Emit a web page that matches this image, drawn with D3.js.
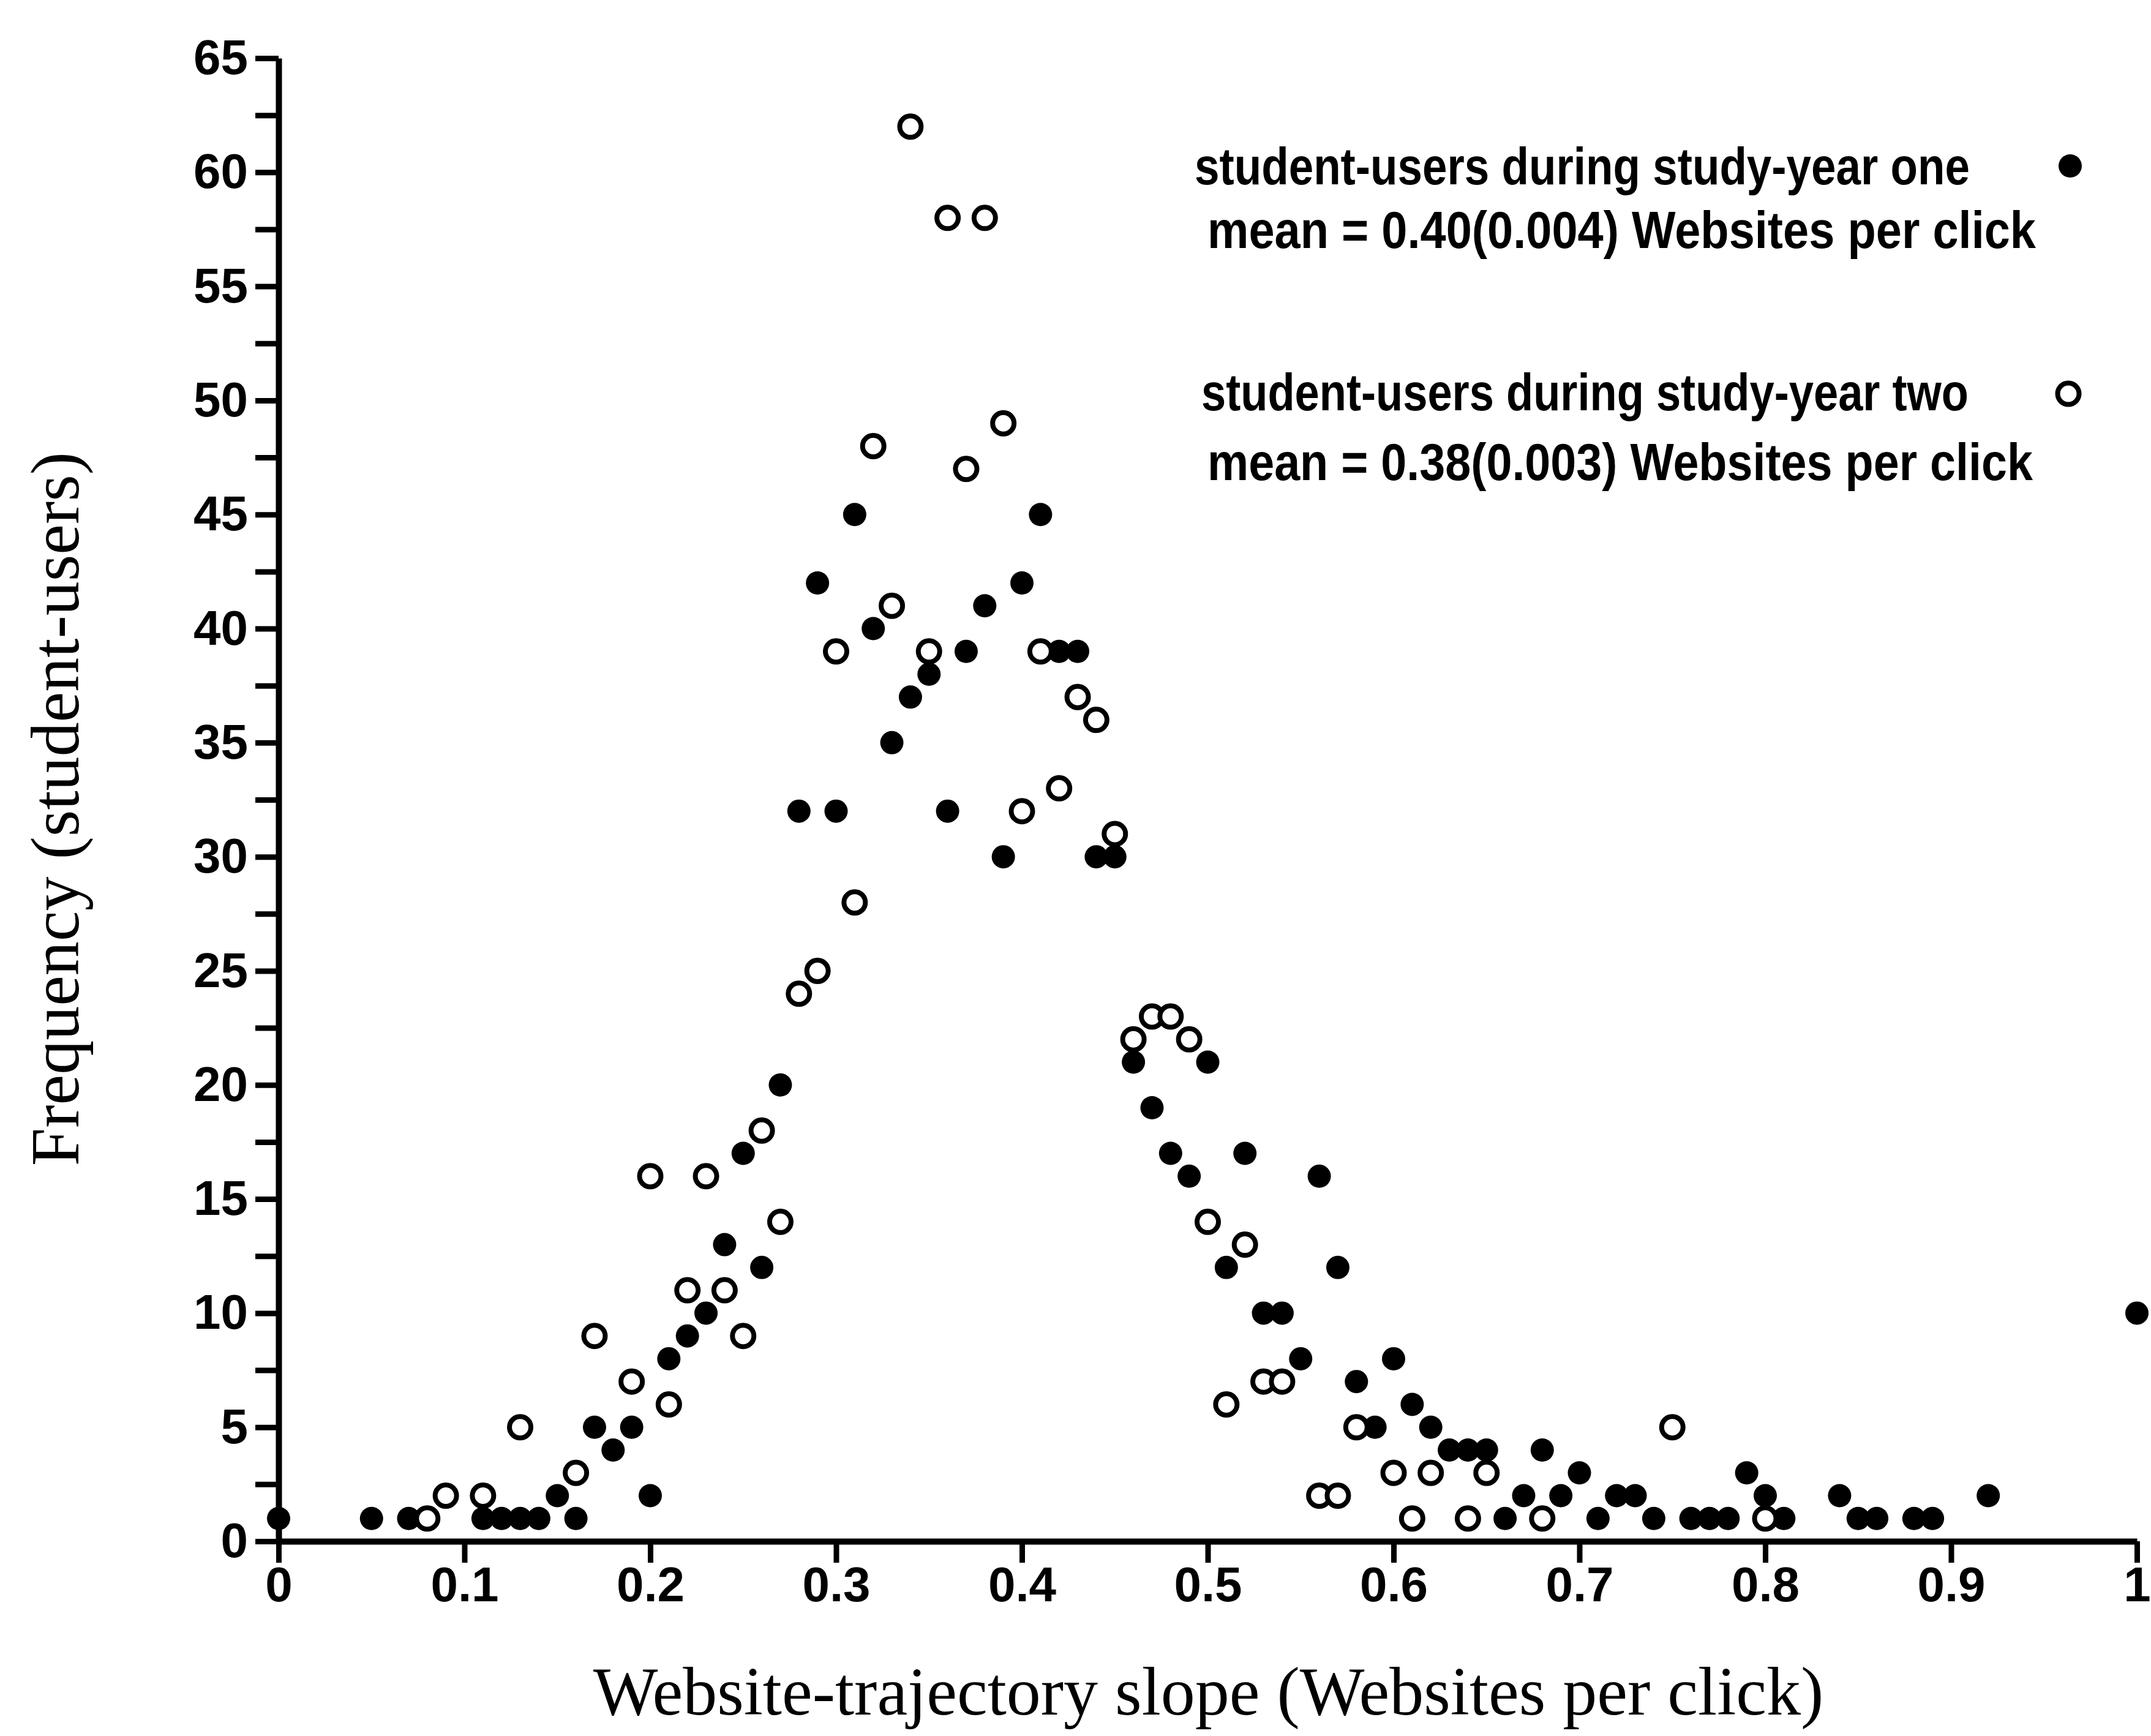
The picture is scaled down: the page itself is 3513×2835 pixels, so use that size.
<!DOCTYPE html>
<html>
<head>
<meta charset="utf-8">
<script src="https://cdn.jsdelivr.net/npm/d3@7"></script>
<style>
  html, body { margin: 0; padding: 0; background: #fff; }
  svg { display: block; }
</style>
</head>
<body>
<div id="chart"></div>
<script>
// year one (filled dots)
const yearOneSlope = [0, 0.05, 0.07, 0.11, 0.12, 0.13, 0.14, 0.15, 0.16, 0.17, 0.18, 0.19, 0.20,
  0.21, 0.22, 0.23, 0.24, 0.25, 0.26, 0.27, 0.28, 0.29, 0.30,
  0.31, 0.32, 0.33, 0.34, 0.35, 0.36, 0.37, 0.38, 0.39, 0.40,
  0.41, 0.42, 0.43, 0.44, 0.45, 0.46, 0.47, 0.48, 0.49, 0.50,
  0.51, 0.52, 0.53, 0.54, 0.55, 0.56, 0.57, 0.58, 0.59, 0.60,
  0.61, 0.62, 0.63, 0.64, 0.65, 0.66, 0.67, 0.68, 0.69, 0.70,
  0.71, 0.72, 0.73, 0.74, 0.76, 0.77, 0.78, 0.79, 0.80, 0.81,
  0.84, 0.85, 0.86, 0.88, 0.89, 0.92, 1.00];
const yearOneFreq = [1, 1, 1, 1, 1, 1, 1, 2, 1, 5, 4, 5, 2,
  8, 9, 10, 13, 17, 12, 20, 32, 42, 32,
  45, 40, 35, 37, 38, 32, 39, 41, 30, 42,
  45, 39, 39, 30, 30, 21, 19, 17, 16, 21,
  12, 17, 10, 10, 8, 16, 12, 7, 5, 8,
  6, 5, 4, 4, 4, 1, 2, 4, 2, 3,
  1, 2, 2, 1, 1, 1, 1, 3, 2, 1,
  2, 1, 1, 1, 1, 2, 10];

// year two (open dots)
const yearTwoSlope = [0.08, 0.09, 0.11, 0.13, 0.16, 0.17, 0.19,
  0.20, 0.21, 0.22, 0.23, 0.24, 0.25, 0.26, 0.27, 0.28, 0.29,
  0.30, 0.31, 0.32, 0.33, 0.34, 0.35, 0.36, 0.37, 0.38, 0.39,
  0.40, 0.41, 0.42, 0.43, 0.44, 0.45, 0.46, 0.47, 0.48, 0.49,
  0.50, 0.51, 0.52, 0.53, 0.54, 0.56, 0.57, 0.58,
  0.60, 0.61, 0.62, 0.64, 0.65, 0.68, 0.75, 0.80];
const yearTwoFreq = [1, 2, 2, 5, 3, 9, 7,
  16, 6, 11, 16, 11, 9, 18, 14, 24, 25,
  39, 28, 48, 41, 62, 39, 58, 47, 58, 49,
  32, 39, 33, 37, 36, 31, 22, 23, 23, 22,
  14, 6, 13, 7, 7, 2, 2, 5,
  3, 1, 3, 1, 3, 1, 5, 1];

const seriesLabels = ['student-users during study-year one', 'student-users during study-year two'];
const seriesMeans = ['mean = 0.40(0.004) Websites per click', 'mean = 0.38(0.003) Websites per click'];

const xTickValues = [0, 0.1, 0.2, 0.3, 0.4, 0.5, 0.6, 0.7, 0.8, 0.9, 1];
const xTickLabels = ['0', '0.1', '0.2', '0.3', '0.4', '0.5', '0.6', '0.7', '0.8', '0.9', '1'];
const yTickValues = [0, 2.5, 5, 7.5, 10, 12.5, 15, 17.5, 20, 22.5, 25, 27.5, 30, 32.5,
  35, 37.5, 40, 42.5, 45, 47.5, 50, 52.5, 55, 57.5, 60, 62.5, 65];
const yTickLabels = ['0', '', '5', '', '10', '', '15', '', '20', '', '25', '', '30', '',
  '35', '', '40', '', '45', '', '50', '', '55', '', '60', '', '65'];

const xTitle = 'Website-trajectory slope (Websites per click)';
const yTitle = 'Frequency (student-users)';

const W = 3513, H = 2835;
const SANS = "'Liberation Sans', Arial, Helvetica, sans-serif";
const SERIF = "'Liberation Serif', 'Times New Roman', Times, serif";

const svg = d3.select('#chart').append('svg')
  .attr('width', W).attr('height', H)
  .attr('viewBox', `0 0 ${W} ${H}`);
svg.append('rect').attr('width', W).attr('height', H).attr('fill', '#fff');

const x = d3.scaleLinear().domain([0, 1]).range([455, 3490]);
const y = d3.scaleLinear().domain([0, 65]).range([2517, 95]);

// axes
const xAxis = d3.axisBottom(x)
  .tickValues(xTickValues)
  .tickFormat((d, i) => xTickLabels[i])
  .tickSize(35).tickSizeOuter(0).tickPadding(6);

const yAxis = d3.axisLeft(y)
  .tickValues(yTickValues)
  .tickFormat((d, i) => yTickLabels[i])
  .tickSize(38).tickSizeOuter(0).tickPadding(12);

const gx = svg.append('g').attr('transform', `translate(0,${y(0)})`).call(xAxis);
const gy = svg.append('g').attr('transform', `translate(${x(0)},0)`).call(yAxis);

[gx, gy].forEach(g => {
  g.select('.domain').attr('stroke', '#000').attr('stroke-width', 10);
  g.selectAll('.tick line').attr('stroke', '#000').attr('stroke-width', 9);
  g.selectAll('.tick text')
    .attr('fill', '#000')
    .style('font-family', SANS)
    .style('font-weight', '700')
    .style('font-size', '80px');
});

// year one: filled
svg.append('g').selectAll('circle')
  .data(yearOneSlope.map((s, i) => ({ s, f: yearOneFreq[i] })))
  .enter().append('circle')
  .attr('cx', d => x(d.s))
  .attr('cy', d => y(d.f))
  .attr('r', 19)
  .attr('fill', '#000');

// year two: open
svg.append('g').selectAll('circle')
  .data(yearTwoSlope.map((s, i) => ({ s, f: yearTwoFreq[i] })))
  .enter().append('circle')
  .attr('cx', d => x(d.s))
  .attr('cy', d => y(d.f))
  .attr('r', 17.5)
  .attr('fill', '#fff')
  .attr('stroke', '#000')
  .attr('stroke-width', 8);

// legend
const legendRows = [
  { text: seriesLabels[0], x: 1951, y: 301, len: 1266 },
  { text: seriesMeans[0], x: 1972, y: 405, len: 1353 },
  { text: seriesLabels[1], x: 1962, y: 670, len: 1253 },
  { text: seriesMeans[1], x: 1972, y: 784, len: 1348 }
];
const legend = svg.append('g');
legendRows.forEach(r => {
  legend.append('text')
    .attr('x', r.x).attr('y', r.y)
    .attr('textLength', r.len)
    .attr('lengthAdjust', 'spacingAndGlyphs')
    .style('font-family', SANS)
    .style('font-weight', '700')
    .style('font-size', '86px')
    .attr('fill', '#000')
    .text(r.text);
});
legend.append('circle').attr('cx', 3381).attr('cy', 271).attr('r', 19).attr('fill', '#000');
legend.append('circle').attr('cx', 3378).attr('cy', 643).attr('r', 17.5)
  .attr('fill', '#fff').attr('stroke', '#000').attr('stroke-width', 8);

// titles
svg.append('text')
  .attr('x', (x(0) + x(1)) / 2 + 1)
  .attr('y', 2800)
  .attr('text-anchor', 'middle')
  .style('font-family', SERIF)
  .style('font-size', '112px')
  .attr('fill', '#000')
  .text(xTitle);

svg.append('text')
  .attr('transform', 'translate(128,1321) rotate(-90)')
  .attr('text-anchor', 'middle')
  .style('font-family', SERIF)
  .style('font-size', '112px')
  .attr('fill', '#000')
  .text(yTitle);
</script>
</body>
</html>
